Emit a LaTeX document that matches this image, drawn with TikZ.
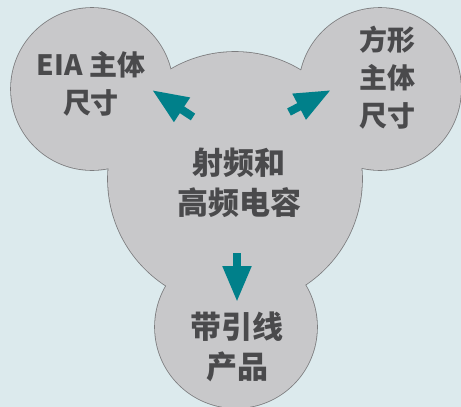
\documentclass[tikz,border=0pt]{standalone}
\usepackage{fontspec}
\newfontfamily\cjkb{Noto Sans CJK SC}
\usetikzlibrary{arrows.meta}
\definecolor{bgc}{HTML}{DCEAED}
\definecolor{blobfill}{HTML}{C8C8CA}
\definecolor{blobline}{HTML}{7C7C7E}
\definecolor{txtc}{HTML}{4A4A4C}
\definecolor{teal}{HTML}{00808A}
\tikzset{
  blobedge/.style={draw=blobline, line width=1.6pt},
  blobface/.style={fill=blobfill},
  lbl/.style={text=txtc, align=center, inner sep=0pt},
  bigl/.style={lbl, font=\cjkb\bfseries\fontsize{31}{40}\selectfont},
  smalll/.style={lbl, font=\cjkb\bfseries\fontsize{28}{38}\selectfont},
  blockarrow/.style={draw=teal, line width=8pt, -{Triangle[length=36pt,width=27pt]}}
}
\begin{document}
\begin{tikzpicture}[x=1pt,y=-1pt]
\fill[bgc] (0,0) rectangle (461,407);
\useasboundingbox (0,0) rectangle (461,407);
% outline (outer edge of union)
\foreach \c/\r in {{(92,89)}/81,{(380,89)}/81,{(235,179)}/127,{(236,327)}/81}{
  \path[blobedge] \c circle[radius=\r];
}
\foreach \c/\r in {{(92,89)}/81,{(380,89)}/81,{(235,179)}/127,{(236,327)}/81}{
  \path[blobface] \c circle[radius=\r];
}
\node[bigl] (center) at (239,183) {射频和\\高频电容};
\node[smalll] (eia) at (91,84) {EIA 主体\\尺寸};
\node[smalll] (rect) at (387,78) {方形\\主体\\尺寸};
\node[bigl] (lead) at (237,347) {带引线\\产品};
\coordinate (a1s) at (193,117);
\coordinate (a1e) at (152,90);
\coordinate (a2s) at (289,112);
\coordinate (a2e) at (331,90);
\coordinate (a3s) at (237,253);
\coordinate (a3e) at (237,302);
\draw[blockarrow] (a1s) -- (a1e);
\draw[blockarrow] (a2s) -- (a2e);
\draw[blockarrow] (a3s) -- (a3e);
\end{tikzpicture}
\end{document}
